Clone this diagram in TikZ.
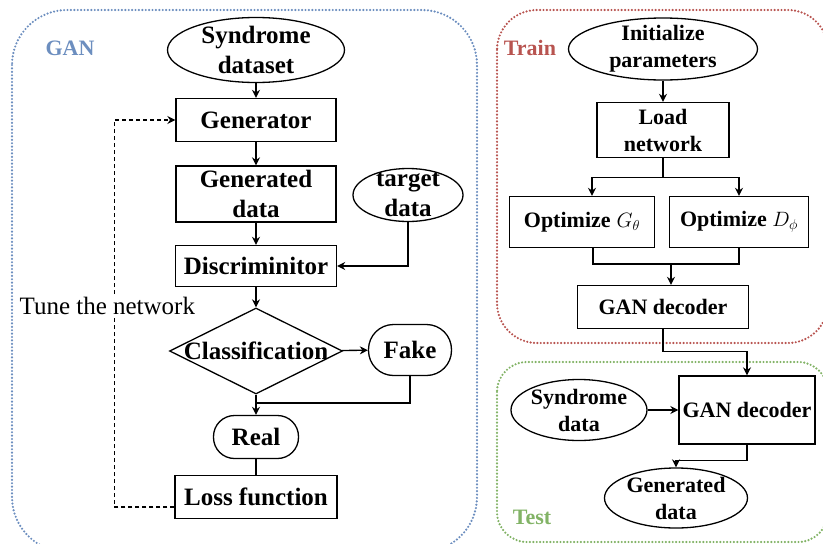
\documentclass[tikz,border=0pt]{standalone}
\usepackage{fontspec}
\setmainfont{Liberation Serif}
\usetikzlibrary{shapes.geometric,arrows.meta}
\definecolor{ganblue}{HTML}{6C8EBF}
\definecolor{trainred}{HTML}{B85450}
\definecolor{testgreen}{HTML}{82B366}
\tikzset{
  frame/.style={line width=2.4pt, dash pattern=on 0pt off 3.4pt, line cap=round},
  grouplabel/.style={font=\bfseries\fontsize{22}{26}\selectfont},
  big/.style={font=\bfseries\fontsize{25}{30}\selectfont},
  small/.style={font=\bfseries\fontsize{22}{27}\selectfont},
  box/.style={draw, line width=1.3pt, inner sep=0pt, align=center},
  term/.style={box, ellipse, inner xsep=-3pt, inner ysep=-10pt},
  pill/.style={box, rounded corners=#1},
  decision/.style={box, diamond},
  arr/.style={line width=1.3pt, -{Stealth[length=8pt,width=8pt]}},
  tune/.style={line width=1.3pt, dash pattern=on 4pt off 3pt, -{Stealth[length=8pt,width=8pt]}}
}
\begin{document}
\begin{tikzpicture}[x=1pt,y=-1pt]
\useasboundingbox (0,0) rectangle (823,544);
\draw[frame, ganblue, rounded corners=55pt] (12,10) rectangle (477,552);
\draw[frame, trainred, rounded corners=40pt] (497,10) rectangle (828,343);
\draw[frame, testgreen, rounded corners=30pt] (497,362) rectangle (828,542);
\node[grouplabel, text=ganblue] (ganlabel) at (70,48) {GAN};
\node[grouplabel, text=trainred] (trainlabel) at (530,48) {Train};
\node[grouplabel, text=testgreen] (testlabel) at (532,517) {Test};

\node[term, big, minimum width=177, minimum height=65] (syndrome) at (256,50) {Syndrome\\dataset};
\node[box, big, minimum width=160, minimum height=43] (generator) at (256,120) {Generator};
\node[box, big, minimum width=160, minimum height=56] (gendata) at (256,194) {Generated\\data};
\node[term, big, minimum width=110, minimum height=53] (target) at (408,195) {target\\data};
\node[box, big, minimum width=161, minimum height=41] (discrim) at (256,266) {Discriminitor};
\node[decision, big, minimum width=173, minimum height=86] (classif) at (256,351) {\makebox[0pt]{Classification}};
\node[pill=25pt, big, minimum width=83, minimum height=51] (fake) at (410,350) {Fake};
\node[pill=21pt, big, minimum width=85, minimum height=43] (real) at (256,437) {Real};
\node[box, big, minimum width=162, minimum height=43] (loss) at (256,497) {Loss function};
\coordinate (fakejoin) at (256,403);

\draw[arr] (syndrome) -- (generator);
\draw[arr] (generator) -- (gendata);
\draw[arr] (gendata) -- (discrim);
\draw[arr] (target.south) |- (discrim.east);
\draw[arr] (discrim) -- (classif);
\draw[arr] (classif) -- (fake);
\draw[line width=1.3pt] (fake.south) |- (fakejoin);
\draw[arr] (classif.south) -- (real.north);
\draw[line width=1.3pt] (real) -- (loss);
\draw[tune] ([yshift=-10pt]loss.west) -- ++(-60,0) |- (generator.west)
  node[pos=0.26, xshift=-7pt, fill=white, inner sep=1pt, font=\fontsize{25}{30}\selectfont] (tunelabel) {Tune the network};

\node[term, small, minimum width=189, minimum height=62] (init) at (663,49) {Initialize\\parameters};
\node[box, small, minimum width=132, minimum height=55] (load) at (663,130) {Load\\network};
\node[box, small, minimum width=145, minimum height=51] (optg) at (582,222) {Optimize\hspace{6pt}$G_\theta$};
\node[box, small, minimum width=139, minimum height=51] (optd) at (739,222) {Optimize $D_\phi$};
\node[box, small, minimum width=171, minimum height=43] (decoder) at (663,307) {GAN decoder};
\coordinate (merge) at (671,264);

\draw[arr] (init) -- (load);
\draw[arr] (load.south) -- ++(0,19) -| ([xshift=10pt]optg.north);
\draw[arr] (load.south) -- ++(0,19) -| (optd.north);
\draw[line width=1.3pt] ([xshift=11pt]optg.south) |- (merge) -| (optd.south);
\draw[arr] (merge) -- (merge |- decoder.north);

\node[box, small, minimum width=136, minimum height=68] (testdec) at (747,410) {GAN decoder};
\node[term, small, minimum width=136, minimum height=61] (syndata) at (579,410) {Syndrome\\data};
\node[term, small, minimum width=143, minimum height=60] (gendata2) at (676,498) {Generated\\data};

\draw[arr] (decoder.south) -- ++(0,22) -| (testdec.north);
\draw[arr] (syndata) -- (testdec);
\draw[arr] (testdec.south) -- ++(0,16) -| (gendata2.north);
\end{tikzpicture}
\end{document}
